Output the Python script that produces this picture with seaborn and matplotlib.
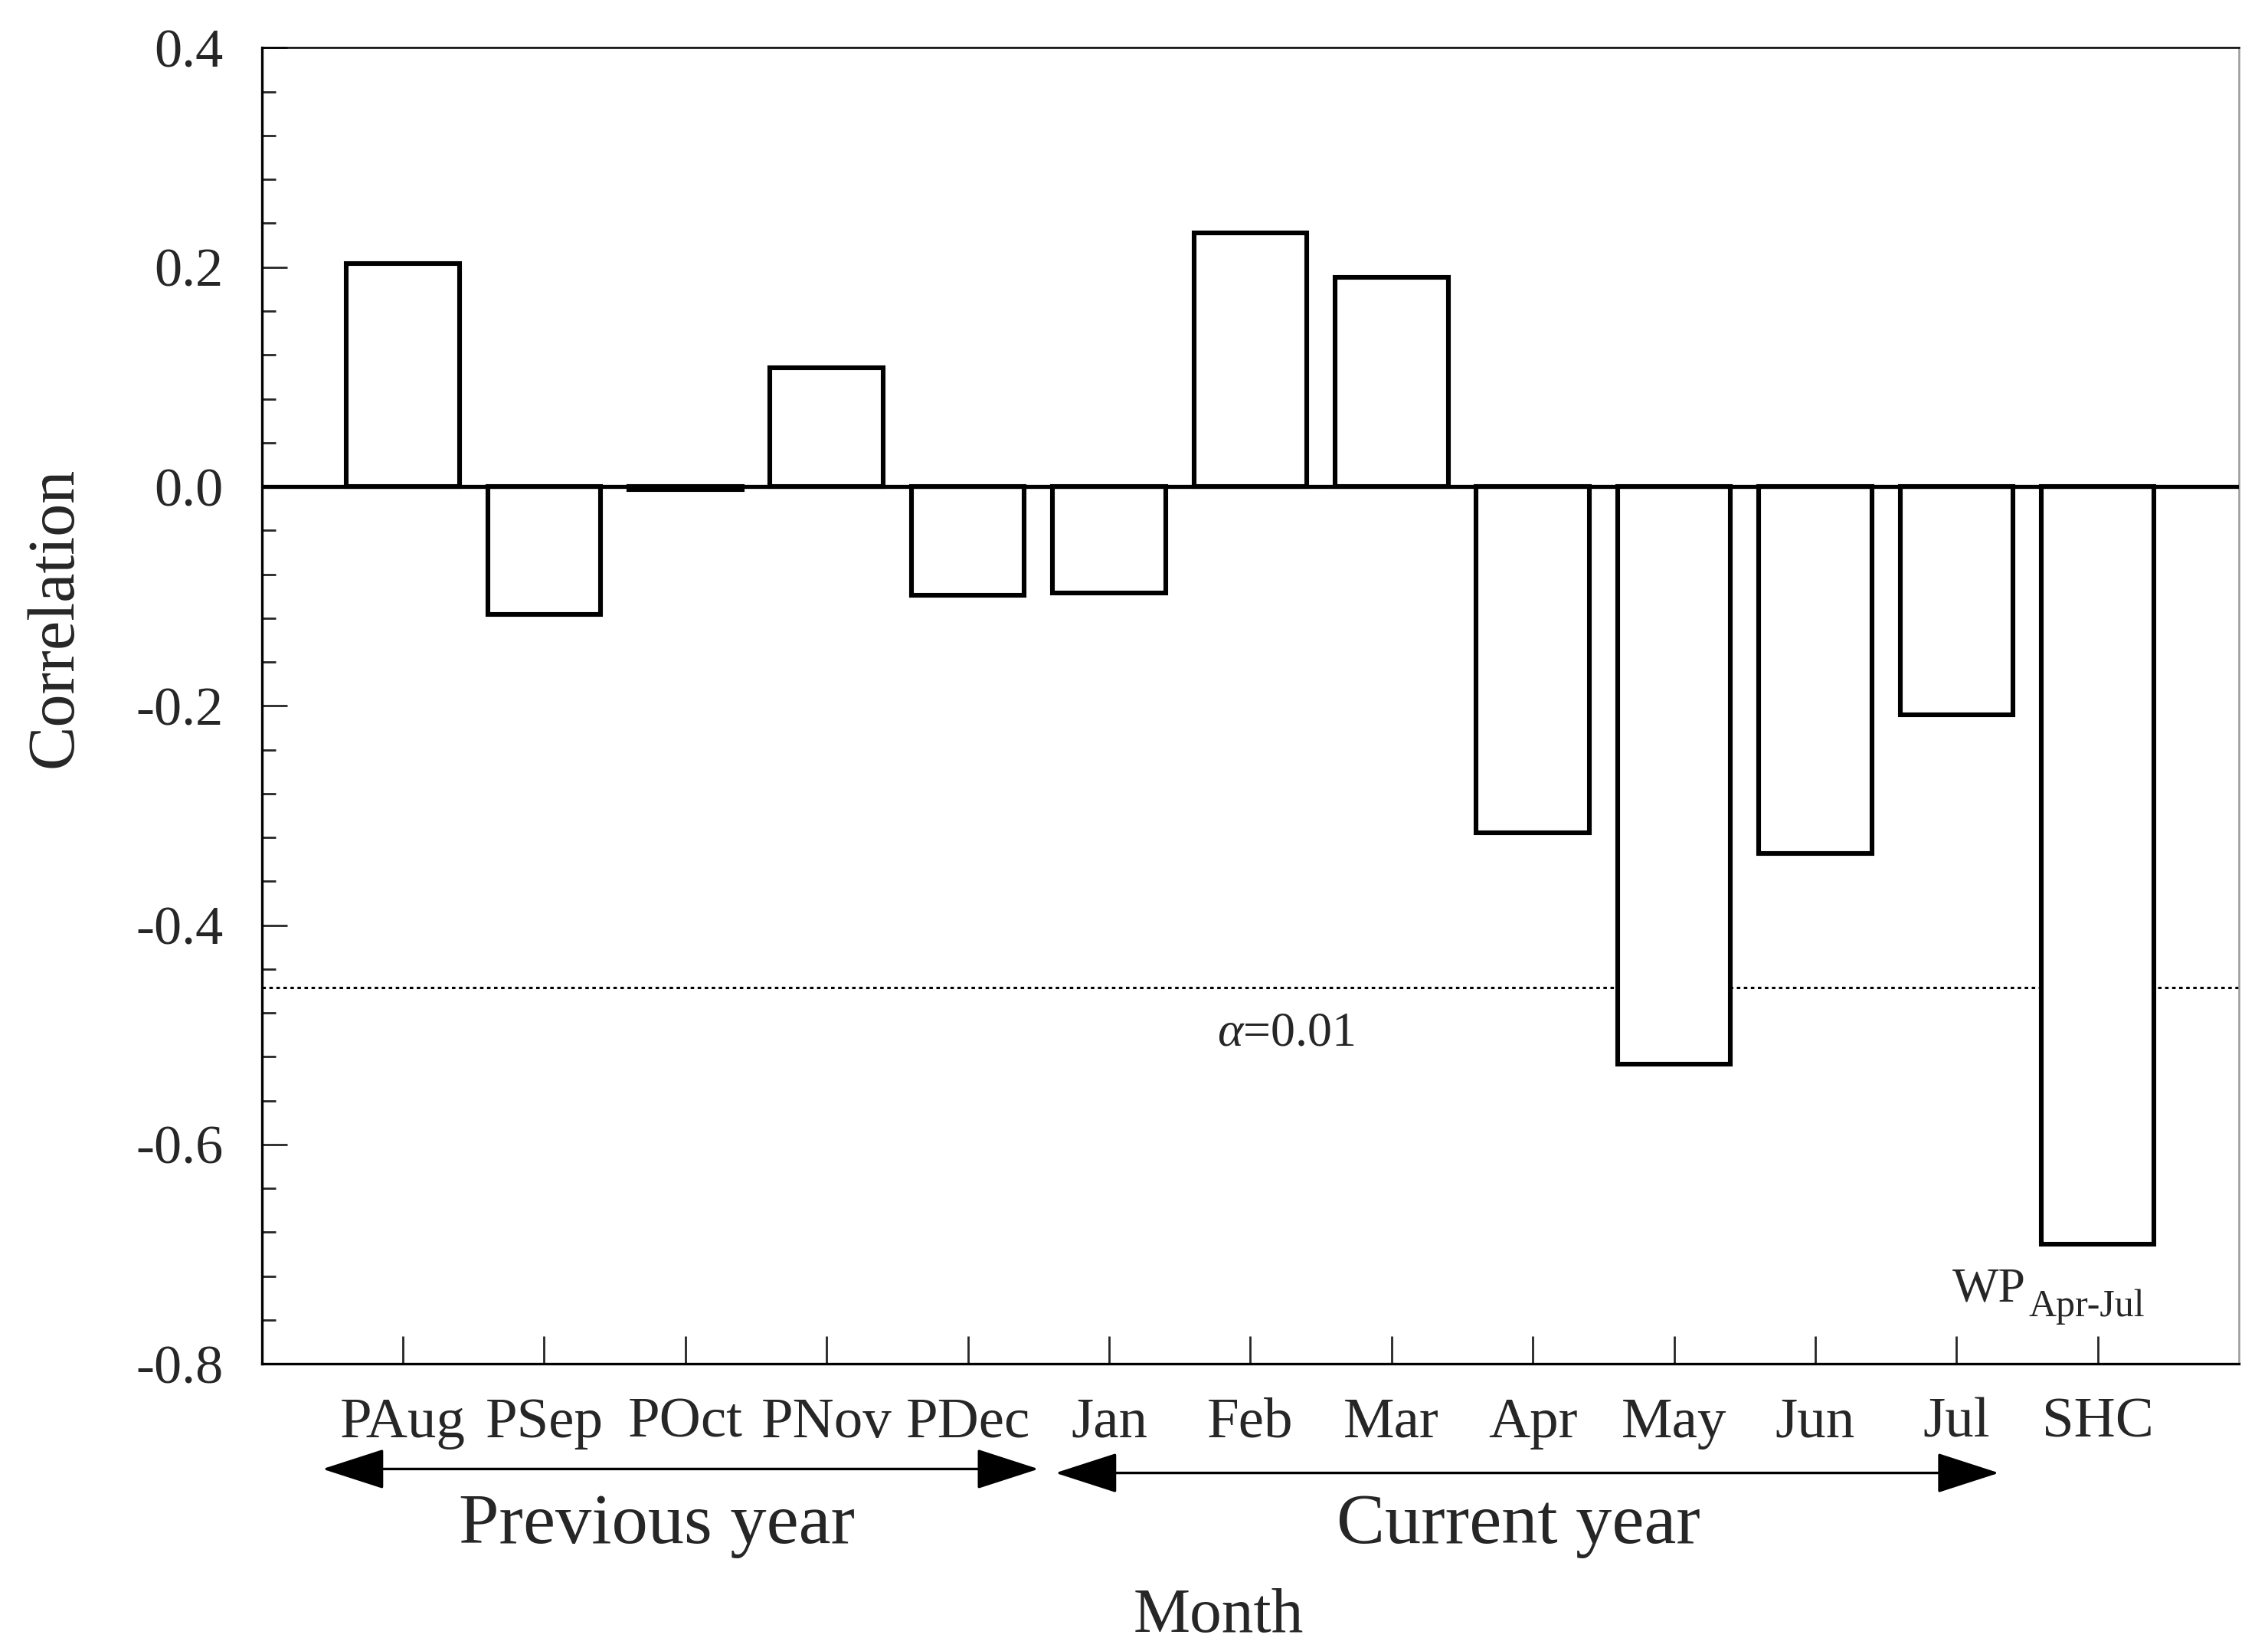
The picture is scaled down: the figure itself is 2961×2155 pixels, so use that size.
import numpy as np
import pandas as pd
import matplotlib
matplotlib.use("Agg")
import matplotlib.pyplot as plt
import seaborn as sns
from matplotlib.ticker import MultipleLocator, FormatStrFormatter

# ---- data ----
months = ["PAug", "PSep", "POct", "PNov", "PDec", "Jan", "Feb", "Mar",
          "Apr", "May", "Jun", "Jul", "SHC"]
corr = [0.203, -0.117, -0.003, 0.108, -0.099, -0.097, 0.231, 0.191,
        -0.316, -0.527, -0.335, -0.208, -0.691]
alpha_level = -0.457
alpha_label = r"$\alpha$=0.01"
group_labels = ["Previous year", "Current year"]

df = pd.DataFrame({"Month": months, "Correlation": corr})

# ---- style ----
sns.set_style("ticks")
plt.rcParams["font.family"] = ["Liberation Serif", "DejaVu Serif"]
plt.rcParams["mathtext.fontset"] = "custom"
plt.rcParams["mathtext.rm"] = "Liberation Serif"
plt.rcParams["mathtext.it"] = "Liberation Serif:italic"
plt.rcParams["axes.unicode_minus"] = False

fig = plt.figure(figsize=(14.805, 10.775), dpi=200)
ax = fig.add_axes([0.1154, 0.174, 0.8718, 0.797])

sns.barplot(data=df, x="Month", y="Correlation", color="white",
            edgecolor="black", linewidth=2.2, width=0.8, saturation=1,
            ax=ax, zorder=3)

ax.axhline(0, color="black", lw=1.9, zorder=4)
ax.axhline(alpha_level, color="black", lw=1.1, ls=(0, (1.5, 1.5)), zorder=2)

ax.set_xlim(-1, 13)
ax.set_ylim(-0.8, 0.4)
ax.yaxis.set_major_locator(MultipleLocator(0.2))
ax.yaxis.set_minor_locator(MultipleLocator(0.04))
ax.yaxis.set_major_formatter(FormatStrFormatter("%.1f"))

ax.tick_params(axis="y", which="major", direction="in", length=12, width=1.0,
               labelsize=26, pad=18)
ax.tick_params(axis="y", which="minor", direction="in", length=6.5, width=1.0)
ax.tick_params(axis="x", direction="in", length=13, width=1.0,
               labelsize=27, pad=16)

for side in ["left", "bottom", "top"]:
    ax.spines[side].set_color("black")
    ax.spines[side].set_linewidth(1.2)
ax.spines["top"].set_linewidth(0.9)
ax.spines["right"].set_color("#9a9a9a")
ax.spines["right"].set_linewidth(0.9)

ax.set_xlabel("")
ax.set_ylabel("")
ax.text(-0.104, 0.567, "Correlation", transform=ax.transAxes, rotation=90,
        ha="center", va="center", fontsize=31)
ax.text(0.484, -0.192, "Month", transform=ax.transAxes,
        ha="center", va="center", fontsize=30)

# annotations inside the axes
ax.text(6.25, -0.499, alpha_label, ha="center", va="center", fontsize=23)
ax.text(10.97, -0.743, "WP", ha="left", va="baseline", fontsize=23)
ax.text(11.51, -0.757, "Apr-Jul", ha="left", va="baseline", fontsize=18)

# year arrows below the tick labels
trans = ax.get_xaxis_transform()
arrow_kw = dict(arrowstyle="<|-|>,head_length=1.3,head_width=0.42",
                color="black", lw=1.2, shrinkA=0, shrinkB=0,
                mutation_scale=20)
ax.annotate("", xy=(4.50, -0.080), xytext=(-0.57, -0.080), xycoords=trans,
            textcoords=trans, arrowprops=arrow_kw, annotation_clip=False)
ax.annotate("", xy=(11.30, -0.083), xytext=(4.62, -0.083), xycoords=trans,
            textcoords=trans, arrowprops=arrow_kw, annotation_clip=False)
ax.text(1.80, -0.123, group_labels[0], transform=trans, ha="center",
        va="center", fontsize=34)
ax.text(7.90, -0.123, group_labels[1], transform=trans, ha="center",
        va="center", fontsize=34)

fig.savefig("out.png", dpi=200)
